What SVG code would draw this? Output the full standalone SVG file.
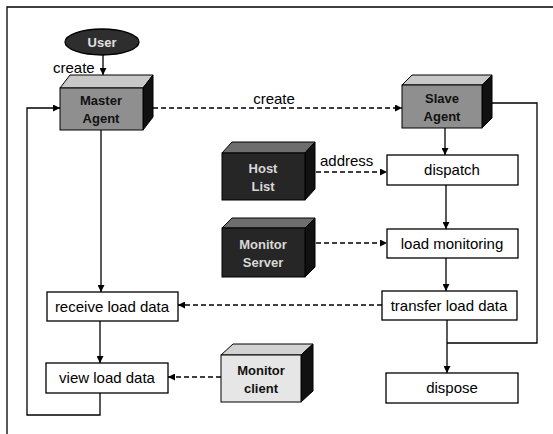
<svg xmlns="http://www.w3.org/2000/svg" width="553" height="434" viewBox="0 0 553 434">
  <style>
    .frame { fill: none; stroke: #000; stroke-width: 1.3; }
    .box { fill: #fff; stroke: #000; stroke-width: 1.3; }
    .lbl { font-family: "Liberation Sans", Arial, sans-serif; font-size: 15px; fill: #000; }
    .mid { text-anchor: middle; }
    .wire { fill: none; stroke: #000; stroke-width: 1.3; }
    .dash { stroke-dasharray: 5 3; }
    .edge { stroke: #000; stroke-width: 1; }
    .cubeL .front { fill: #8f8f8f; }
    .cubeL .top { fill: #c8c8c8; }
    .cubeD .front { fill: #262626; }
    .cubeD .top { fill: #6e6e6e; }
    .cubeW .front { fill: #e6e6e6; }
    .cubeW .top { fill: #d2d2d2; }
    .side { fill: #111; }
    .ctxt { font-family: "Liberation Sans", Arial, sans-serif; font-size: 13px; font-weight: bold; text-anchor: middle; }
    .cubeL .ctxt, .cubeW .ctxt { fill: #111; }
    .cubeD .ctxt { fill: #d8d8d8; }
  </style>
  <defs>
    <marker id="arr" viewBox="0 0 10 10" refX="10" refY="5" markerWidth="7" markerHeight="7" markerUnits="userSpaceOnUse" orient="auto">
      <path d="M0,0 L10,5 L0,10 z" fill="#000"/>
    </marker>
  </defs>

  <!-- page frame -->
  <path class="frame" d="M7,434 V7 H553"/>

  <!-- connectors -->
  <g id="connectors">
    <path class="wire" d="M103,55 V75" marker-end="url(#arr)"/>
    <path class="wire" d="M101,130 V292" marker-end="url(#arr)"/>
    <path class="wire" d="M100,321 V363" marker-end="url(#arr)"/>
    <path class="wire" d="M100,393 V415 H27 V108 H60" marker-end="url(#arr)"/>
    <path class="wire dash" d="M153,108 H402" marker-end="url(#arr)"/>
    <path class="wire" d="M445,128 V155" marker-end="url(#arr)"/>
    <path class="wire" d="M446,185 V229" marker-end="url(#arr)"/>
    <path class="wire" d="M446,258 V291" marker-end="url(#arr)"/>
    <path class="wire" d="M447,320 V373" marker-end="url(#arr)"/>
    <path class="wire" d="M492,103 H537 V343 H447"/>
    <path class="wire dash" d="M316,172 H387" marker-end="url(#arr)"/>
    <path class="wire dash" d="M316,243 H387" marker-end="url(#arr)"/>
    <path class="wire dash" d="M382,305 H178" marker-end="url(#arr)"/>
    <path class="wire dash" d="M221,377 H168" marker-end="url(#arr)"/>
    <text class="lbl" x="53" y="73">create</text>
    <text class="lbl mid" x="274" y="104">create</text>
    <text class="lbl" x="320" y="166">address</text>
  </g>

  <!-- user -->
  <g id="user">
    <ellipse cx="102" cy="42" rx="37" ry="13" fill="#2e2e2e" stroke="#000" stroke-width="1.3"/>
    <text x="102" y="47" class="ctxt" style="fill:#e0e0e0">User</text>
  </g>

  <!-- master agent -->
  <g id="master-agent" class="cubeL">
    <polygon class="top edge" points="60,88 70,75 153,75 143,88"/>
    <polygon class="side edge" points="143,88 153,75 153,117 143,130"/>
    <rect class="front edge" x="60" y="88" width="83" height="42"/>
    <text class="ctxt" x="101" y="105">Master</text>
    <text class="ctxt" x="101" y="123">Agent</text>
  </g>

  <!-- slave agent -->
  <g id="slave-agent" class="cubeL">
    <polygon class="top edge" points="402,85 412,75 492,75 482,85"/>
    <polygon class="side edge" points="482,85 492,75 492,118 482,128"/>
    <rect class="front edge" x="402" y="85" width="80" height="43"/>
    <text class="ctxt" x="442" y="103">Slave</text>
    <text class="ctxt" x="442" y="121">Agent</text>
  </g>

  <!-- host list -->
  <g id="host-list" class="cubeD">
    <polygon class="top edge" points="222,153 232,142 315,142 305,153"/>
    <polygon class="side edge" points="305,153 315,142 315,189 305,200"/>
    <rect class="front edge" x="222" y="153" width="83" height="47"/>
    <text class="ctxt" x="263" y="173">Host</text>
    <text class="ctxt" x="263" y="191">List</text>
  </g>

  <!-- monitor server -->
  <g id="monitor-server" class="cubeD">
    <polygon class="top edge" points="222,228 232,218 315,218 305,228"/>
    <polygon class="side edge" points="305,228 315,218 315,267 305,277"/>
    <rect class="front edge" x="222" y="228" width="83" height="49"/>
    <text class="ctxt" x="263" y="249">Monitor</text>
    <text class="ctxt" x="263" y="267">Server</text>
  </g>

  <!-- monitor client -->
  <g id="monitor-client" class="cubeW">
    <polygon class="top edge" points="221,355 233,344 313,344 301,355"/>
    <polygon class="side edge" points="301,355 313,344 313,391 301,402"/>
    <rect class="front edge" x="221" y="355" width="80" height="47"/>
    <text class="ctxt" x="261" y="375">Monitor</text>
    <text class="ctxt" x="261" y="393">client</text>
  </g>

  <!-- process steps -->
  <g id="dispatch">
    <rect class="box" x="387" y="155" width="131" height="30"/>
    <text class="lbl mid" x="452" y="175">dispatch</text>
  </g>
  <g id="load-monitoring">
    <rect class="box" x="387" y="229" width="131" height="29"/>
    <text class="lbl mid" x="452" y="249">load monitoring</text>
  </g>
  <g id="transfer-load-data">
    <rect class="box" x="382" y="291" width="135" height="29"/>
    <text class="lbl mid" x="449" y="311">transfer load data</text>
  </g>
  <g id="dispose">
    <rect class="box" x="386" y="373" width="132" height="30"/>
    <text class="lbl mid" x="452" y="393">dispose</text>
  </g>
  <g id="receive-load-data">
    <rect class="box" x="47" y="292" width="131" height="29"/>
    <text class="lbl mid" x="112" y="312">receive load data</text>
  </g>
  <g id="view-load-data">
    <rect class="box" x="46" y="363" width="122" height="30"/>
    <text class="lbl mid" x="107" y="383">view load data</text>
  </g>
</svg>
